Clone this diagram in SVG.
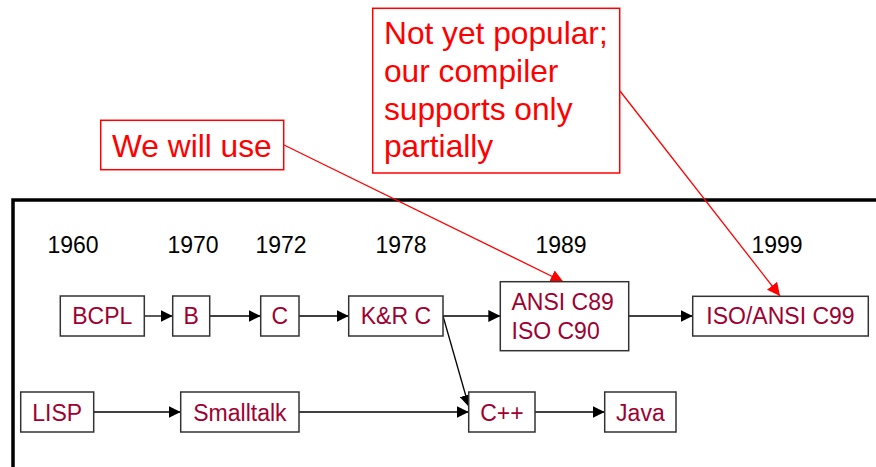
<svg xmlns="http://www.w3.org/2000/svg" width="876" height="467" viewBox="0 0 876 467">
<style>
  .box { fill: #ffffff; stroke: #333333; stroke-width: 1.5; }
  .lbl { font-family: "Liberation Sans", Arial, sans-serif; font-size: 23px; fill: #a00030; }
  .year { font-family: "Liberation Sans", Arial, sans-serif; font-size: 23px; fill: #000000; text-anchor: middle; }
  .note { fill: #ffffff; stroke: #ff0000; stroke-width: 1.5; }
  .notetext { font-family: "Liberation Sans", Arial, sans-serif; font-size: 31.7px; fill: #ff0000; }
  .conn { fill: none; stroke: #000000; stroke-width: 1.3; marker-end: url(#ah); }
  .rconn { fill: none; stroke: #ff0000; stroke-width: 1.3; marker-end: url(#rah); }
</style>
<defs>
  <marker id="ah" markerUnits="userSpaceOnUse" markerWidth="12" markerHeight="12" refX="12" refY="6" orient="auto">
    <path d="M0,0 L12,6 L0,12 z" fill="#000000"/>
  </marker>
  <marker id="rah" markerUnits="userSpaceOnUse" markerWidth="13" markerHeight="13" refX="13" refY="6.5" orient="auto">
    <path d="M0,0 L13,6.5 L0,13 z" fill="#ff0000"/>
  </marker>
</defs>
<rect width="876" height="467" fill="#ffffff"/>
<g id="frame">
  <path d="M13,467 L13,200 L876,200" fill="none" stroke="#000000" stroke-width="3.5"/>
</g>
<g id="years">
  <text class="year" x="73" y="253">1960</text>
  <text class="year" x="193" y="253">1970</text>
  <text class="year" x="281" y="253">1972</text>
  <text class="year" x="401" y="253">1978</text>
  <text class="year" x="561" y="253">1989</text>
  <text class="year" x="777" y="253">1999</text>
</g>
<g id="connectors">
  <path class="conn" d="M144.3,316 L172.7,316"/>
  <path class="conn" d="M209.7,316 L260.7,316"/>
  <path class="conn" d="M299,316 L348.7,316"/>
  <path class="conn" d="M443,316 L500.3,316"/>
  <path class="conn" d="M628.7,316 L692.7,316"/>
  <path class="conn" d="M443,316 L469,407"/>
  <path class="conn" d="M93.7,412 L180.7,412"/>
  <path class="conn" d="M299,412 L468.7,412"/>
  <path class="conn" d="M535,412 L604.7,412"/>
  <path class="rconn" d="M284,145 L563.5,282"/>
  <path class="rconn" d="M620,91 L780,296"/>
</g>
<g id="bcpl">
  <rect class="box" x="60.3" y="296" width="84" height="40"/>
  <text class="lbl" x="102.3" y="324" text-anchor="middle">BCPL</text>
</g>
<g id="b">
  <rect class="box" x="172.7" y="296" width="37" height="40"/>
  <text class="lbl" x="191.2" y="324" text-anchor="middle">B</text>
</g>
<g id="c">
  <rect class="box" x="260.7" y="296" width="38.3" height="40"/>
  <text class="lbl" x="279.9" y="324" text-anchor="middle">C</text>
</g>
<g id="krc">
  <rect class="box" x="348.7" y="296" width="94.3" height="40"/>
  <text class="lbl" x="395.9" y="324" text-anchor="middle">K&amp;R C</text>
</g>
<g id="ansi">
  <rect class="box" x="500.3" y="281.7" width="128.4" height="69"/>
  <text class="lbl" x="511.5" y="310">ANSI C89</text>
  <text class="lbl" x="511.5" y="339.3">ISO C90</text>
</g>
<g id="c99">
  <rect class="box" x="692.7" y="296.3" width="175.6" height="39.7"/>
  <text class="lbl" x="780.5" y="324.3" text-anchor="middle">ISO/ANSI C99</text>
</g>
<g id="lisp">
  <rect class="box" x="20.7" y="392" width="73" height="40"/>
  <text class="lbl" x="57.2" y="420.5" text-anchor="middle">LISP</text>
</g>
<g id="smalltalk">
  <rect class="box" x="180.7" y="392" width="118.3" height="40"/>
  <text class="lbl" x="239.9" y="420.5" text-anchor="middle">Smalltalk</text>
</g>
<g id="cpp">
  <rect class="box" x="468.7" y="392" width="66.3" height="40"/>
  <text class="lbl" x="501.9" y="420.5" text-anchor="middle">C++</text>
</g>
<g id="java">
  <rect class="box" x="604.7" y="392" width="71.3" height="40"/>
  <text class="lbl" x="640.4" y="420.5" text-anchor="middle">Java</text>
</g>
<g id="note-use">
  <rect class="note" x="100.7" y="120.3" width="183" height="49.4"/>
  <text class="notetext" x="112" y="156.7">We will use</text>
</g>
<g id="note-popular">
  <rect class="note" x="372.7" y="8.3" width="247" height="164.7"/>
  <text class="notetext" x="384" y="44.3">Not yet popular;</text>
  <text class="notetext" x="384" y="82">our compiler</text>
  <text class="notetext" x="384" y="119.5">supports only</text>
  <text class="notetext" x="384" y="157">partially</text>
</g>
</svg>
